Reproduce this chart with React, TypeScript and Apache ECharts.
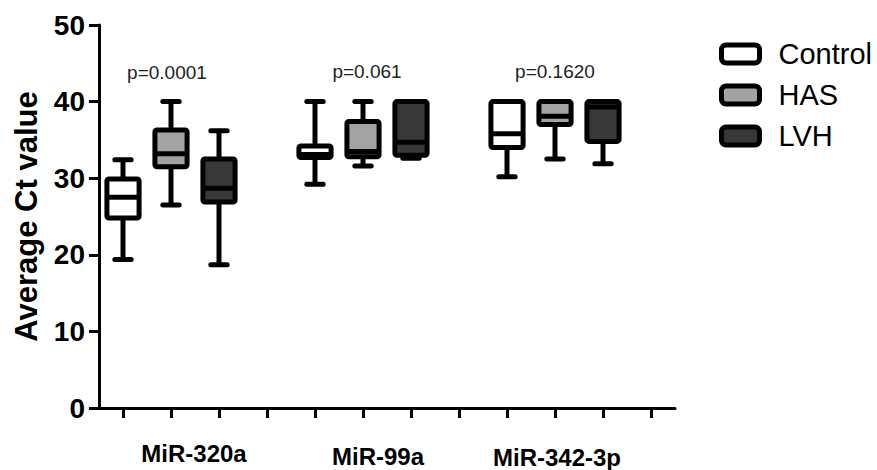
import React, { useEffect, useRef } from "react";
import * as echarts from "echarts";

const groupNames = ["MiR-320a", "MiR-99a", "MiR-342-3p"];
const seriesNames = ["Control", "HAS", "LVH"];
const pValues = ["p=0.0001", "p=0.061", "p=0.1620"];
const yTicks = [0, 10, 20, 30, 40, 50];

// [min, Q1, median, Q3, max] per group
const controlStats = [
  [19.4, 24.8, 27.5, 29.9, 32.4],
  [29.2, 32.7, 33.1, 34.2, 40.0],
  [30.2, 34.0, 35.8, 40.0, 40.0],
];
const hasStats = [
  [26.5, 31.5, 33.2, 36.3, 40.0],
  [31.6, 32.8, 33.5, 37.4, 40.0],
  [32.5, 37.0, 38.1, 40.0, 40.0],
];
const lvhStats = [
  [18.7, 26.9, 28.7, 32.5, 36.2],
  [32.6, 33.0, 34.7, 40.0, 40.0],
  [31.9, 34.8, 39.3, 40.0, 40.0],
];

const fills = ["#ffffff", "#a3a3a3", "#383838"];
const FONT = "'Liberation Sans', Arial, Helvetica, sans-serif";

export default function App() {
  const ref = useRef<HTMLDivElement>(null);
  useEffect(() => {
    if (!ref.current) return;
    const chart = echarts.init(ref.current, null, { renderer: "svg" });
    const slots = Array.from({ length: 12 }, (_, i) => String(i));
    const allStats = [controlStats, hasStats, lvhStats];
    const LW = 5;

    const renderItem = (params: any, api: any) => {
      const x = api.value(0);
      const pMin = api.coord([x, api.value(1)]);
      const pQ1 = api.coord([x, api.value(2)]);
      const pMed = api.coord([x, api.value(3)]);
      const pQ3 = api.coord([x, api.value(4)]);
      const pMax = api.coord([x, api.value(5)]);
      const band = api.size([1, 0])[0];
      const bw = band * 0.67;
      const cw = band * 0.34;
      const cx = pMed[0];
      const fill = fills[params.seriesIndex];
      const lineStyle = { stroke: "#000", lineWidth: LW, lineCap: "round" };
      const children: any[] = [];
      if (pMax[1] < pQ3[1] - 0.5) {
        children.push({ type: "line", shape: { x1: cx, y1: pMax[1], x2: cx, y2: pQ3[1] }, style: { stroke: "#000", lineWidth: LW } });
        children.push({ type: "line", shape: { x1: cx - cw / 2, y1: pMax[1], x2: cx + cw / 2, y2: pMax[1] }, style: lineStyle });
      }
      if (pMin[1] > pQ1[1] + 0.5) {
        children.push({ type: "line", shape: { x1: cx, y1: pQ1[1], x2: cx, y2: pMin[1] }, style: { stroke: "#000", lineWidth: LW } });
        children.push({ type: "line", shape: { x1: cx - cw / 2, y1: pMin[1], x2: cx + cw / 2, y2: pMin[1] }, style: lineStyle });
      }
      children.push({
        type: "rect",
        shape: { x: cx - bw / 2, y: pQ3[1], width: bw, height: pQ1[1] - pQ3[1], r: 2 },
        style: { fill, stroke: "#000", lineWidth: LW },
      });
      children.push({
        type: "line",
        shape: { x1: cx - bw / 2, y1: pMed[1], x2: cx + bw / 2, y2: pMed[1] },
        style: { stroke: "#000", lineWidth: LW },
      });
      return { type: "group", children };
    };

    const series = seriesNames.map((name, si) => ({
      name,
      type: "custom",
      renderItem,
      itemStyle: { color: fills[si], borderColor: "#000", borderWidth: LW },
      encode: { x: 0, y: [1, 2, 3, 4, 5] },
      data: allStats[si].map((s, gi) => [gi * 4 + si, ...s]),
    }));

    const pTextPos = [
      [167, 72],
      [367, 71],
      [555, 71],
    ];
    const groupLabelPos = [
      [194, 453],
      [378, 456],
      [557, 457],
    ];

    chart.setOption({
      animation: false,
      grid: { left: 99, right: 202, top: 25, bottom: 62, containLabel: false, outerBoundsMode: "none" },
      xAxis: {
        type: "category",
        data: slots,
        boundaryGap: true,
        axisLine: { show: true, lineStyle: { color: "#000", width: 3 } },
        axisTick: { show: true, alignWithLabel: true, interval: 0, length: 10, lineStyle: { color: "#000", width: 3 } },
        axisLabel: { show: true, interval: 0, formatter: () => "" },
        splitLine: { show: false },
      },
      yAxis: {
        type: "value",
        min: yTicks[0],
        max: yTicks[yTicks.length - 1],
        interval: 10,
        name: "Average Ct value",
        nameLocation: "middle",
        nameRotate: 90,
        nameGap: 57,
        nameTextStyle: { fontFamily: FONT, fontWeight: "bold", fontSize: 31, color: "#000" },
        axisLine: { show: true, lineStyle: { color: "#000", width: 3 } },
        axisTick: { show: true, length: 10, lineStyle: { color: "#000", width: 3 } },
        axisLabel: { margin: 14, fontFamily: FONT, fontWeight: "bold", fontSize: 28, color: "#000" },
        splitLine: { show: false },
      },
      legend: {
        orient: "vertical",
        left: 714,
        top: 34,
        itemWidth: 38,
        itemHeight: 18,
        itemGap: 11,
        icon: "roundRect",
        itemStyle: { borderColor: "#000", borderWidth: 5 },
        textStyle: { fontFamily: FONT, fontSize: 29, color: "#000", padding: [0, 0, 0, 14], lineHeight: 30 },
        data: seriesNames,
      },
      graphic: [
        ...pValues.map((t, i) => ({
          type: "text",
          x: pTextPos[i][0],
          y: pTextPos[i][1],
          style: { text: t, fontFamily: FONT, fontSize: 19, fill: "#222", align: "center", verticalAlign: "middle" },
        })),
        ...groupNames.map((t, i) => ({
          type: "text",
          x: groupLabelPos[i][0],
          y: groupLabelPos[i][1],
          style: { text: t, fontFamily: FONT, fontSize: 24, fontWeight: "bold", fill: "#000", align: "center", verticalAlign: "middle" },
        })),
      ],
      series,
    });
    return () => chart.dispose();
  }, []);
  return <div ref={ref} style={{ width: 877, height: 470, position: "absolute", left: 0, top: 0 }} />;
}
